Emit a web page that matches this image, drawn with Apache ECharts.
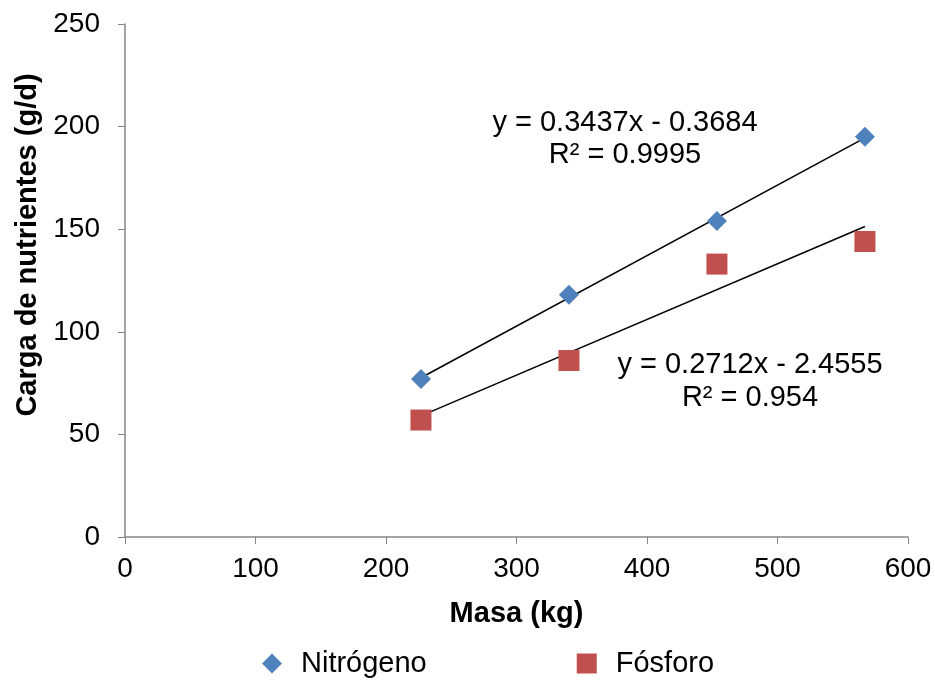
<!DOCTYPE html>
<html><head><meta charset="utf-8">
<script src="https://cdn.jsdelivr.net/npm/echarts@6/dist/echarts.min.js"></script>
<style>html,body{margin:0;padding:0;background:#fff}#c{width:935px;height:681px}</style>
</head><body><div id="c"></div>
<script>
const masa = [226.8, 340.2, 453.6, 567];
const nitrogeno = [77, 118, 154, 195];
const fosforo = [57, 86, 133, 144];
const trendN = [[226.8, 77.6], [567, 194.5]];
const trendP = [[226.8, 59.0], [567, 151.3]];
const eqN = ['y = 0.3437x - 0.3684', 'R² = 0.9995'];
const eqP = ['y = 0.2712x - 2.4555', 'R² = 0.954'];
const xTicks = [0, 100, 200, 300, 400, 500, 600];
const yTicks = [0, 50, 100, 150, 200, 250];
const xTitle = 'Masa (kg)';
const yTitle = 'Carga de nutrientes (g/d)';

const font = 'Liberation Sans, Arial, sans-serif';
const axisColor = '#868686';
const chart = echarts.init(document.getElementById('c'));
chart.setOption({
  animation: false,
  textStyle: {fontFamily: font},
  grid: {left: 125, right: 27, top: 24, bottom: 144},
  xAxis: {
    type: 'value', min: xTicks[0], max: xTicks[xTicks.length-1], interval: 100,
    name: xTitle, nameLocation: 'middle', nameGap: 62,
    nameTextStyle: {fontSize: 29, fontWeight: 'bold', color: '#000', fontFamily: font},
    axisLine: {show: true, lineStyle: {color: axisColor, width: 1.5}},
    axisTick: {show: true, length: 7, lineStyle: {color: axisColor}},
    axisLabel: {fontSize: 28, color: '#000', margin: 18, fontFamily: font},
    splitLine: {show: false}
  },
  yAxis: {
    type: 'value', min: yTicks[0], max: yTicks[yTicks.length-1], interval: 50,
    axisLine: {show: true, lineStyle: {color: axisColor, width: 1.5}},
    axisTick: {show: true, length: 7, lineStyle: {color: axisColor}},
    axisLabel: {fontSize: 28, color: '#000', margin: 25, fontFamily: font},
    splitLine: {show: false}
  },
  legend: {
    left: 257, top: 644, itemGap: 150, itemWidth: 20, itemHeight: 20,
    textStyle: {fontSize: 29, color: '#000', fontFamily: font, padding: [0,0,0,14]},
    data: [{name: 'Nitrógeno', icon: 'diamond'}, {name: 'Fósforo', icon: 'rect'}]
  },
  series: [
    {type: 'line', data: trendN, showSymbol: false, symbol: 'none', lineStyle: {color: '#000', width: 1.5}, silent: true, z: 1},
    {type: 'line', data: trendP, showSymbol: false, symbol: 'none', lineStyle: {color: '#000', width: 1.5}, silent: true, z: 1},
    {name: 'Nitrógeno', type: 'scatter', symbol: 'diamond', symbolSize: 20,
     itemStyle: {color: '#4f81bd', opacity: 1}, data: masa.map((x,i)=>[x, nitrogeno[i]]), z: 3},
    {name: 'Fósforo', type: 'scatter', symbol: 'rect', symbolSize: 21,
     itemStyle: {color: '#c0504d', opacity: 1}, data: masa.map((x,i)=>[x, fosforo[i]]), z: 2}
  ],
  graphic: [
    {type: 'text', style: {text: yTitle, fontSize: 29, fontWeight: 'bold', fontFamily: font, fill: '#000', align: 'center', verticalAlign: 'middle'}, x: 28, y: 245, rotation: Math.PI/2},
    {type: 'text', style: {text: eqN.join('\n'), fontSize: 29, fontFamily: font, fill: '#000', align: 'center', verticalAlign: 'middle', lineHeight: 32}, x: 625, y: 139},
    {type: 'text', style: {text: eqP.join('\n'), fontSize: 29, fontFamily: font, fill: '#000', align: 'center', verticalAlign: 'middle', lineHeight: 33}, x: 750, y: 381}
  ]
});
</script></body></html>
